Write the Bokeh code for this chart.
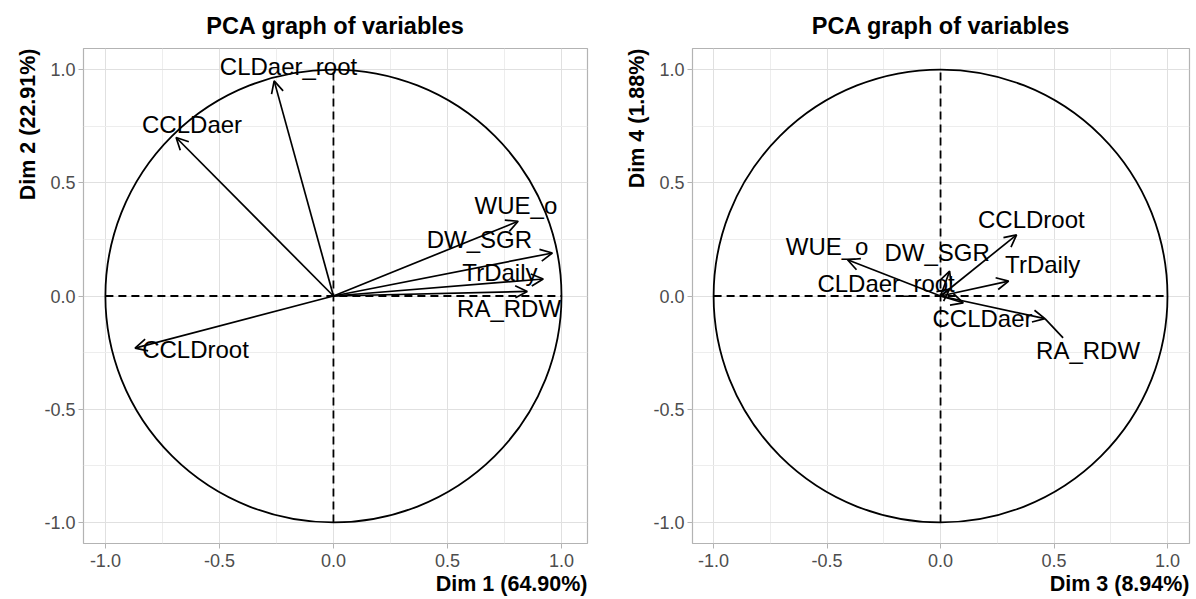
import numpy as np
from bokeh.plotting import figure
from bokeh.layouts import row
from bokeh.models import (ColumnDataSource, Arrow, OpenHead, FixedTicker,
                          PrintfTickFormatter, Title)
from bokeh.core.properties import value
from bokeh.embed import file_html
from bokeh.resources import INLINE

# ---- data (variable coordinates) ----
variables = ["CCLDaer", "CLDaer_root", "CCLDroot", "WUE_o", "DW_SGR", "TrDaily", "RA_RDW"]
dim1 = [-0.69, -0.26, -0.87, 0.81, 0.96, 0.92, 0.85]
dim2 = [0.70, 0.95, -0.23, 0.33, 0.19, 0.075, 0.02]
dim3 = [0.10, 0.04, 0.335, -0.41, 0.04, 0.30, 0.46]
dim4 = [-0.03, 0.03, 0.27, 0.16, 0.11, 0.066, -0.10]

# label positions (after repel)
lab12_x = [-0.62, -0.197, -0.605, 0.80, 0.64, 0.73, 0.77]
lab12_y = [0.758, 1.013, -0.235, 0.40, 0.25, 0.105, -0.053]
lab34_x = [0.185, -0.24, 0.40, -0.50, -0.015, 0.45, 0.65]
lab34_y = [-0.10, 0.053, 0.34, 0.22, 0.19, 0.14, -0.24]
seg34 = [False, False, False, False, False, False, True]

axis_titles = [("Dim 1 (64.90%)", "Dim 2 (22.91%)"), ("Dim 3 (8.94%)", "Dim 4 (1.88%)")]
major_ticks = [-1.0, -0.5, 0.0, 0.5, 1.0]
minor_ticks = [-0.75, -0.25, 0.25, 0.75]
title_text = "PCA graph of variables"

FONT = "Liberation Sans"


def make_panel(xs, ys, lx, ly, seg, xlab, ylab, fw, bl, br, xr):
    p = figure(frame_width=fw, frame_height=495, x_range=xr, y_range=(-1.093, 1.093),
               output_backend="svg", toolbar_location=None,
               min_border_left=bl, min_border_right=br,
               min_border_top=47, min_border_bottom=56)
    p.title.text = title_text
    p.title.align = "center"
    p.title.text_font = FONT
    p.title.text_font_size = "23.5px"
    p.title.text_font_style = "bold"
    p.title.text_color = "black"
    p.title.standoff = 20

    p.outline_line_color = "#B3B3B3"
    p.outline_line_width = 1.2
    p.background_fill_color = "white"
    p.border_fill_color = "white"

    for ax in (p.xaxis, p.yaxis):
        ax.ticker = FixedTicker(ticks=major_ticks, minor_ticks=minor_ticks)
        ax.formatter = PrintfTickFormatter(format="%.1f")
        ax.axis_line_color = None
        ax.major_tick_line_color = "#B3B3B3"
        ax.major_tick_out = 5
        ax.major_tick_in = 0
        ax.minor_tick_line_color = None
        ax.major_label_text_font = FONT
        ax.major_label_text_font_size = "18px"
        ax.major_label_text_color = "#4D4D4D"
    p.xaxis.major_label_standoff = 5
    p.yaxis.major_label_standoff = 3

    for g in (p.xgrid, p.ygrid):
        g.grid_line_color = "#E0E0E0"
        g.grid_line_width = 1
        g.minor_grid_line_color = "#EDEDED"
        g.minor_grid_line_width = 1

    p.add_layout(Title(text=xlab, align="right", text_font=FONT, text_font_size="21.5px",
                       text_font_style="bold", text_color="black", standoff=0), "below")
    p.add_layout(Title(text=ylab, align="right", text_font=FONT, text_font_size="21.5px",
                       text_font_style="bold", text_color="black", standoff=4), "left")

    # correlation circle
    p.ellipse(x=0, y=0, width=2, height=2, fill_color=None, line_color="black", line_width=1.8)
    # dashed axes
    p.segment(x0=[-1, 0], y0=[0, -1], x1=[1, 0], y1=[0, 1], line_color="black",
              line_width=1.8, line_dash="8 5")

    src = ColumnDataSource(dict(x0=[0.0] * len(xs), y0=[0.0] * len(xs), x=xs, y=ys))
    p.add_layout(Arrow(end=OpenHead(size=12, line_width=1.7, line_color="black"),
                       x_start="x0", y_start="y0", x_end="x", y_end="y",
                       source=src, line_width=1.7, line_color="black"))

    # repel connector segments
    sx0 = [xs[i] for i in range(len(xs)) if seg[i]]
    sy0 = [ys[i] for i in range(len(xs)) if seg[i]]
    sx1 = [lx[i] - 0.11 for i in range(len(xs)) if seg[i]]
    sy1 = [ly[i] + 0.055 for i in range(len(xs)) if seg[i]]
    if sx0:
        p.segment(x0=sx0, y0=sy0, x1=sx1, y1=sy1, line_color="black", line_width=1.7)

    p.text(x=lx, y=ly, text=variables, text_font=value(FONT), text_font_size="24px",
           text_align="center", text_baseline="middle", text_color="black")
    return p


p1 = make_panel(dim1, dim2, lab12_x, lab12_y, [False] * 7, axis_titles[0][0], axis_titles[0][1],
                504, 83, 13, (-1.096, 1.114))
p2 = make_panel(dim3, dim4, lab34_x, lab34_y, seg34, axis_titles[1][0], axis_titles[1][1],
                497, 92, 7, (-1.093, 1.097))

layout = row(p1, p2)
open("out.html", "w").write(file_html(layout, INLINE))
